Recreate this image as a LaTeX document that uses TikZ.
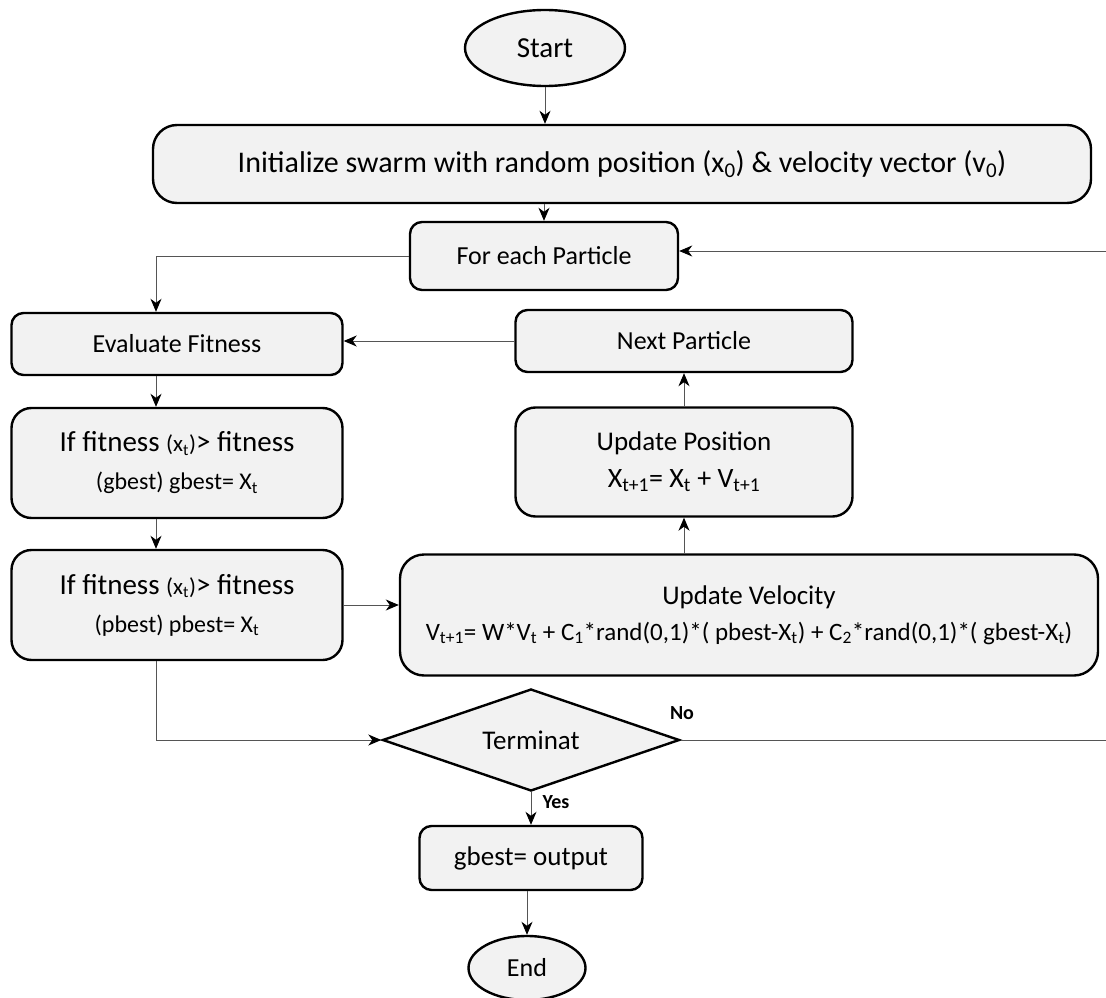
\documentclass[tikz,border=0pt]{standalone}
\usepackage{fontspec}
\setmainfont{Carlito}
\usetikzlibrary{shapes.geometric,arrows.meta}
\definecolor{boxfill}{HTML}{F2F2F2}
\definecolor{linegray}{HTML}{555555}
\newcommand\sbs[1]{\textsubscript{#1}}
\begin{document}
\begin{tikzpicture}[x=1pt,y=-1pt,
  box/.style={draw=black, line width=2.4pt, fill=boxfill, rounded corners=12pt, inner sep=0pt, align=center, font=\fontsize{26}{31}\selectfont},
  bigbox/.style={box, rounded corners=24pt},
  oval/.style={draw=black, line width=2.4pt, fill=boxfill, ellipse, inner sep=0pt, font=\fontsize{26}{30}\selectfont},
  dia/.style={draw=black, line width=2.4pt, fill=boxfill, diamond, aspect=2.9, inner sep=0pt, font=\fontsize{27}{30}\selectfont},
  arr/.style={draw=linegray, line width=1pt, -{Stealth[length=13pt,width=11pt,inset=4pt,color=black]}},
  ln/.style={draw=linegray, line width=1pt},
  lbl/.style={font=\bfseries\fontsize{20}{22}\selectfont, inner sep=0pt}
]
\useasboundingbox (0,0) rectangle (1106,998);

\node[oval, minimum width=160, minimum height=76, font=\fontsize{29}{32}\selectfont] (start) at (545,48) {Start};
\node[bigbox, minimum width=938, minimum height=78, font=\fontsize{30}{34}\selectfont] (init) at (622,164)
  {Initialize swarm with random position (x\sbs{0}) \& velocity vector (v\sbs{0})};
\node[box, minimum width=268, minimum height=68] (fe) at (544,256) {For each Particle};
\node[box, minimum width=331, minimum height=62] (eval) at (177,344) {Evaluate Fitness};
\node[box, rounded corners=20pt, minimum width=331, minimum height=110, font=\fontsize{29}{38}\selectfont] (if1) at (177,463)
  {If fitness {\fontsize{23}{26}\selectfont(x\sbs{t})}> fitness\\{\fontsize{24}{26}\selectfont(gbest) gbest= X\sbs{t}}};
\node[box, rounded corners=20pt, minimum width=331, minimum height=110, font=\fontsize{29}{38}\selectfont] (if2) at (177,605)
  {If fitness {\fontsize{23}{26}\selectfont(x\sbs{t})}> fitness\\{\fontsize{24}{26}\selectfont(pbest) pbest= X\sbs{t}}};
\node[box, minimum width=337, minimum height=62] (next) at (684,341) {Next Particle};
\node[box, rounded corners=20pt, minimum width=337, minimum height=109, font=\fontsize{27}{37}\selectfont] (pos) at (684,462)
  {Update Position\\{\fontsize{28}{30}\selectfont X\sbs{t+1}= X\sbs{t} + V\sbs{t+1}}};
\node[bigbox, minimum width=698, minimum height=121, font=\fontsize{27}{36}\selectfont] (vel) at (749,615)
  {Update Velocity\\{\fontsize{25}{28}\selectfont V\sbs{t+1}= W*V\sbs{t} + C\sbs{1}*rand(0,1)*( pbest-X\sbs{t}) + C\sbs{2}*rand(0,1)*( gbest-X\sbs{t})}};
\node[dia, minimum width=297, minimum height=102] (term) at (531,740) {Terminat};
\node[box, minimum width=223, minimum height=64, font=\fontsize{27}{30}\selectfont] (gb) at (531,858) {gbest= output};
\node[oval, minimum width=117, minimum height=64] (end) at (527,968) {End};

\coordinate (rtop) at (1106,251);
\coordinate (rbot) at (1106,740);
\coordinate (lx) at (156,0);

\draw[arr] (start.south) -- (start.south |- init.north);
\draw[arr] (init.south -| fe.north) -- (fe.north);
\draw[arr] (fe.west) -| (lx |- eval.north);
\draw[arr] (rtop) -- (rtop -| fe.east);
\draw[arr] (next.west) -- (next.west -| eval.east);
\draw[arr] (lx |- eval.south) -- (lx |- if1.north);
\draw[arr] (lx |- if1.south) -- (lx |- if2.north);
\draw[arr] (if2.east) -- (if2.east -| vel.west);
\draw[arr] (vel.north -| pos.south) -- (pos.south);
\draw[arr] (pos.north) -- (next.south);
\draw[arr] (lx |- if2.south) |- (term.west);
\draw[ln] (term.east) -- (rbot);
\draw[arr] (term.south) -- (gb.north);
\draw[arr] (gb.south -| end.north) -- (end.north);

\node[lbl] (no) at (682,713) {No};
\node[lbl] (yes) at (556,802) {Yes};
\end{tikzpicture}
\end{document}
